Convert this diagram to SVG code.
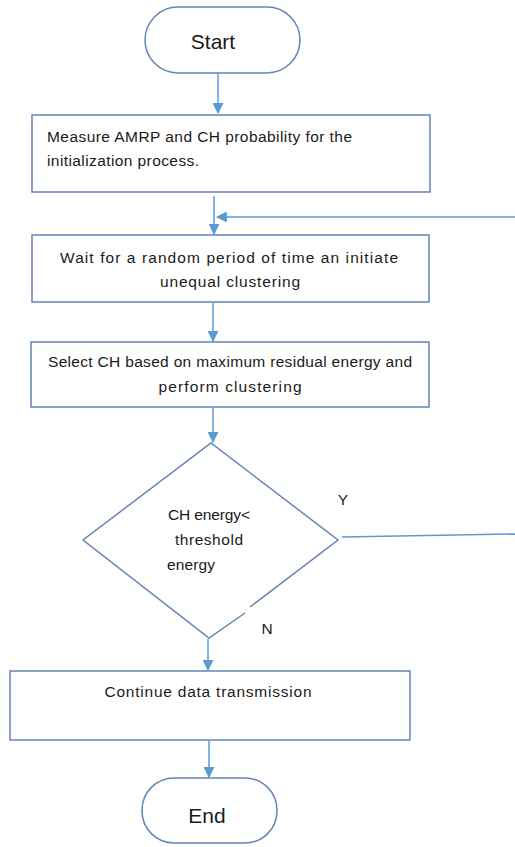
<svg xmlns="http://www.w3.org/2000/svg" width="515" height="847" viewBox="0 0 515 847">
<style>
.box{fill:#ffffff;stroke:#6185b5;stroke-width:1.5}
.term{fill:#ffffff;stroke:#6185b5;stroke-width:1.5}
.t{font-family:"Liberation Sans",Arial,sans-serif;font-size:15.5px;fill:#1a1a1a}
.tl{font-family:"Liberation Sans",Arial,sans-serif;font-size:21px;fill:#1a1a1a}
.c{text-anchor:middle}
.conn{fill:none;stroke:#5b9bd5;stroke-width:1.5}
</style>
<defs>
<marker id="ah" viewBox="0 0 10 10" refX="9" refY="5" markerWidth="11" markerHeight="11" markerUnits="userSpaceOnUse" orient="auto">
<path d="M0,0 L10,5 L0,10 z" fill="#5b9bd5"/>
</marker>
</defs>
<rect width="515" height="847" fill="#ffffff"/>
<g id="connectors">
<line class="conn" x1="218" y1="73" x2="218" y2="113" marker-end="url(#ah)"/>
<line class="conn" x1="214" y1="196" x2="214" y2="234" marker-end="url(#ah)"/>
<line class="conn" x1="515" y1="217" x2="217" y2="217" marker-end="url(#ah)"/>
<line class="conn" x1="213" y1="303" x2="213" y2="341" marker-end="url(#ah)"/>
<line class="conn" x1="213" y1="408" x2="213" y2="442" marker-end="url(#ah)"/>
<line class="conn" x1="342" y1="537" x2="515" y2="534"/>
<line class="conn" x1="208" y1="639" x2="208" y2="670" marker-end="url(#ah)"/>
<line class="conn" x1="209" y1="741" x2="209" y2="777" marker-end="url(#ah)"/>
</g>
<g id="start">
<rect class="term" x="145" y="7" width="155" height="66" rx="33"/>
<text class="tl c" x="213" y="49">Start</text>
</g>
<g id="measure">
<rect class="box" x="32" y="115" width="398" height="77"/>
<text class="t" x="47" y="142" textLength="305">Measure AMRP and CH probability for the</text>
<text class="t" x="47" y="166" textLength="152">initialization process.</text>
</g>
<g id="wait">
<rect class="box" x="32" y="235" width="397" height="67"/>
<text class="t c" x="229" y="263" textLength="338">Wait for a random period of time an initiate</text>
<text class="t c" x="230" y="287" textLength="140">unequal clustering</text>
</g>
<g id="select">
<rect class="box" x="31" y="342" width="398" height="65"/>
<text class="t c" x="230" y="367" textLength="364">Select CH based on maximum residual energy and</text>
<text class="t c" x="230" y="392" textLength="143">perform clustering</text>
</g>
<g id="decision">
<path class="box" d="M250,607 L338,540 L211,443 L83,540 L209,638 L245,613" fill="#ffffff"/>
<text class="t" x="168" y="520" textLength="82">CH energy&lt;</text>
<text class="t" x="175" y="545" textLength="68">threshold</text>
<text class="t" x="167" y="570" textLength="48">energy</text>
<text class="t c" x="343" y="505">Y</text>
<text class="t c" x="267" y="634">N</text>
</g>
<g id="continue">
<rect class="box" x="10" y="671" width="400" height="69"/>
<text class="t c" x="208" y="697" textLength="207">Continue data transmission</text>
</g>
<g id="end">
<rect class="term" x="142" y="778" width="135" height="65" rx="32"/>
<text class="tl c" x="207" y="823">End</text>
</g>
</svg>
